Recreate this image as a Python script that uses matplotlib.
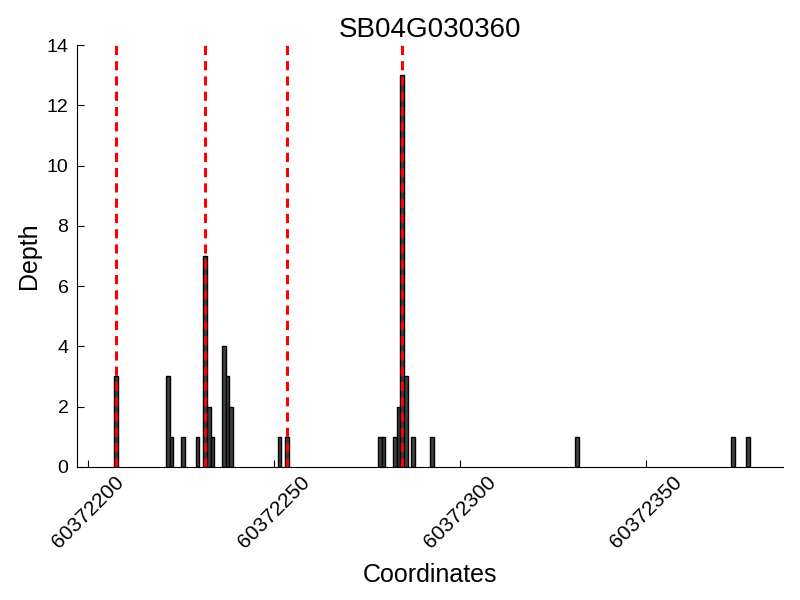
import numpy as np
import matplotlib
matplotlib.use("Agg")
import matplotlib.pyplot as plt

plt.rcParams['font.family'] = ['Liberation Sans', 'DejaVu Sans']

# depth per coordinate
coords = [60372207, 60372221, 60372222, 60372225, 60372229, 60372231,
          60372232, 60372233, 60372236, 60372237, 60372238, 60372251,
          60372253, 60372278, 60372279, 60372282, 60372283, 60372284,
          60372285, 60372287, 60372292, 60372331, 60372373, 60372377]
depth = [3, 3, 1, 1, 1, 7, 2, 1, 4, 3, 2, 1,
         1, 1, 1, 1, 2, 13, 3, 1, 1, 1, 1, 1]

# marked sites (red dashed lines)
sites = [60372207, 60372231, 60372253, 60372284]

title = "SB04G030360"
xticks = [60372200, 60372250, 60372300, 60372350]

fig = plt.figure(figsize=(8, 6), dpi=100)
ax = fig.add_axes([0.096, 0.222, 0.883, 0.703])

ax.bar(coords, depth, width=1, align='edge', color='#404040',
       edgecolor='black', linewidth=1, zorder=2)
for s in sites:
    ax.axvline(s + 0.5, color='red', linestyle=(0, (3, 2)), linewidth=2.2, zorder=3)

ax.set_xlim(60372197, 60372387)
ax.set_ylim(0, 14)
ax.set_yticks(range(0, 15, 2))
ax.set_xticks(xticks)
ax.set_xticklabels([str(x) for x in xticks], rotation=45, ha='center')

ax.spines['top'].set_visible(False)
ax.spines['right'].set_visible(False)
ax.tick_params(direction='in', labelsize=14, length=5)
ax.tick_params(axis='x', labelsize=15, pad=4)
ax.tick_params(axis='y', pad=6)

ax.set_xlabel("Coordinates", fontsize=18, labelpad=8)
ax.set_ylabel("Depth", fontsize=18)
ax.set_title(title, fontsize=20)

fig.savefig("out.png", dpi=100)
